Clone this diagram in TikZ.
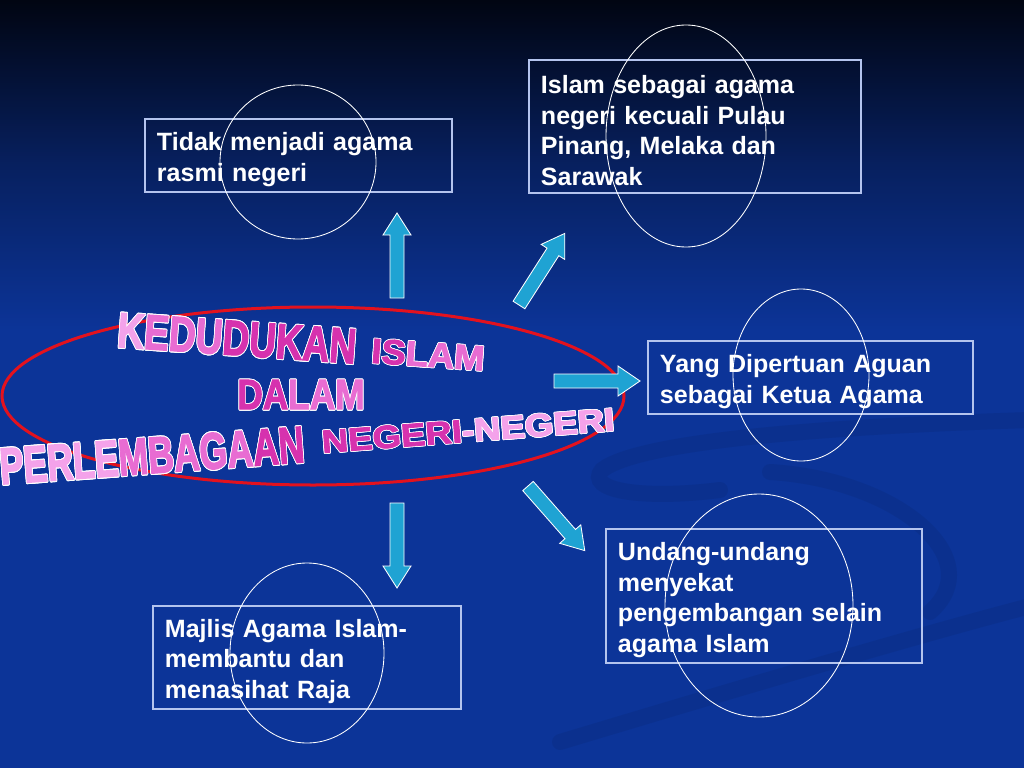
\documentclass[tikz,border=0pt]{standalone}
\usepackage{fontspec}
\setmainfont{Liberation Sans}
\newfontfamily\titlefont[FakeBold=2.5]{Liberation Sans}
\usepackage{contour}
\contourlength{0.6pt}
\usepackage{tikz}

\definecolor{bgblue}{HTML}{0C3498}
\definecolor{bgtop}{HTML}{010512}
\definecolor{bgmid}{HTML}{07205F}
\definecolor{arrowcyan}{HTML}{1FA3D3}
\definecolor{ringred}{HTML}{E3121E}
\definecolor{boxline}{HTML}{B4C4EE}
\definecolor{pinklight}{HTML}{F4A2EA}
\definecolor{pinkmid}{HTML}{E86CD2}
\definecolor{pinkdeep}{HTML}{D632AE}

\newcommand{\pinkbit}[2]{\textcolor{#1}{\contour{white}{#2}}}

\begin{document}
\begin{tikzpicture}[x=0.025cm,y=-0.025cm,
  textbox/.style={draw=boxline, line width=0.9pt, text=white, align=left,
    inner xsep=0.3cm, inner ysep=0pt,
    font=\bfseries\fontsize{17.8}{21.8}\selectfont,
    execute at begin node=\rule{0pt}{18.5pt}},
  ring/.style={draw=white, line width=0.6pt},
  blockarrow/.style={fill=arrowcyan, draw=white, line width=0.6pt},
  titleword/.style={inner sep=0pt, font=\titlefont\bfseries\fontsize{30}{30}\selectfont},
  swoosh/.style={draw=bgtop, line width=0.4cm, opacity=0.07, line cap=round}]
  \useasboundingbox (0,0) rectangle (1024,768);

  %background
  \fill[bgblue] (0,0) rectangle (1024,768);
  \shade[top color=bgtop, bottom color=bgblue, middle color=bgmid]
    (0,0) rectangle (1024,330);
  \draw[swoosh]
    (1030,420) .. controls (840,426) and (640,440) .. (602,470)
    .. controls (585,490) and (640,500) .. (720,490);
  \draw[swoosh]
    (770,472) .. controls (900,480) and (990,560) .. (930,612);
  \draw[swoosh]
    (1030,606) .. controls (900,640) and (700,700) .. (560,742);

  %centre
  \draw[ringred, line width=0.075cm]
    (313,396) ellipse [x radius=311, y radius=89];
  \node[titleword, rotate=-4] (kedudukan) at (237,339)
    {\resizebox{5.98cm}{0.85cm}{\pinkbit{pinklight}{K}\pinkbit{pinkmid}{EDU}\pinkbit{pinkdeep}{DUKAN}}};
  \node[titleword, rotate=-4] (islam) at (428,355)
    {\resizebox{2.83cm}{0.61cm}{\pinkbit{pinkdeep}{IS}\pinkbit{pinkmid}{LAM}}};
  \node[titleword] (dalam) at (301,395)
    {\resizebox{3.18cm}{0.73cm}{\pinkbit{pinkdeep}{DA}\pinkbit{pinkmid}{LAM}}};
  \node[titleword, rotate=4.2] (perlembagaan) at (152,456)
    {\resizebox{7.63cm}{0.9cm}{\pinkbit{pinklight}{PERLE}\pinkbit{pinkmid}{MBAGA}\pinkbit{pinkdeep}{AN}}};
  \node[titleword, rotate=4.4] (negeri) at (468,431)
    {\resizebox{7.33cm}{0.56cm}{\pinkbit{pinkdeep}{NEGERI}\pinkbit{pinklight}{-NEGERI}}};

  %arrows
  \filldraw[blockarrow, shift={(397,298)}, rotate=90]
    (0,-7) -- (63,-7) -- (63,-14) -- (85,0) -- (63,14) -- (63,7) -- (0,7) -- cycle;
  \filldraw[blockarrow, shift={(519,305)}, rotate=57.4]
    (0,-7) -- (63,-7) -- (63,-14) -- (85,0) -- (63,14) -- (63,7) -- (0,7) -- cycle;
  \filldraw[blockarrow, shift={(554,381)}, rotate=0]
    (0,-7) -- (64,-7) -- (64,-15) -- (86,0) -- (64,15) -- (64,7) -- (0,7) -- cycle;
  \filldraw[blockarrow, shift={(528,486)}, rotate=-48.7]
    (0,-7) -- (64,-7) -- (64,-14) -- (86,0) -- (64,14) -- (64,7) -- (0,7) -- cycle;
  \filldraw[blockarrow, shift={(397,503)}, rotate=-90]
    (0,-7) -- (63,-7) -- (63,-14) -- (85,0) -- (63,14) -- (63,7) -- (0,7) -- cycle;

  %boxes
  \node[textbox, text width=7.075cm, minimum height=1.825cm] (rasmi) at (298.5,155.5)
    {Tidak menjadi agama\\rasmi negeri};
  \node[textbox, text width=7.7cm, minimum height=3.325cm] (agamanegeri) at (695,126.5)
    {Islam sebagai agama\\negeri kecuali Pulau\\Pinang, Melaka dan\\Sarawak};
  \node[textbox, text width=7.525cm, minimum height=1.825cm] (ketua) at (810.5,377.5)
    {Yang Dipertuan Aguan\\sebagai Ketua Agama};
  \node[textbox, text width=7.3cm, minimum height=3.35cm] (undang) at (764,596)
    {Undang-undang\\menyekat\\pengembangan selain\\agama Islam};
  \node[textbox, text width=7.1cm, minimum height=2.575cm] (majlis) at (307,657.5)
    {Majlis Agama Islam-\\membantu dan\\menasihat Raja};

  %rings
  \draw[ring] (298,162) ellipse [x radius=78, y radius=77];
  \draw[ring] (686,136) ellipse [x radius=80, y radius=111];
  \draw[ring] (801,375) ellipse [x radius=68, y radius=86];
  \draw[ring] (759,605.5) ellipse [x radius=94, y radius=111.5];
  \draw[ring] (307,653) ellipse [x radius=77, y radius=90];
\end{tikzpicture}
\end{document}
